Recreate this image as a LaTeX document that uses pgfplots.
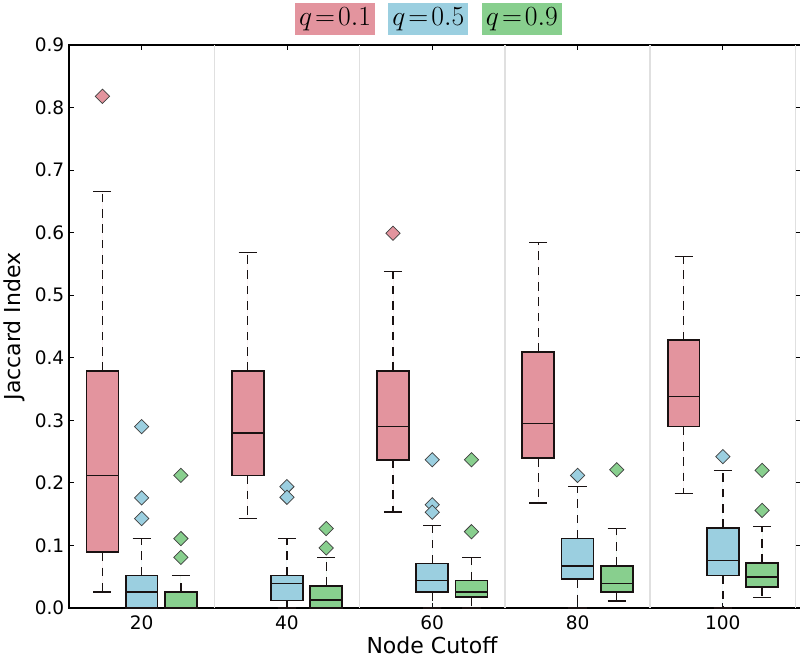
\documentclass[border=0pt]{standalone}
\usepackage{fontspec}
\setmainfont{DejaVu Sans}
\usepackage{pgfplots}
\pgfplotsset{compat=1.18}
\usepgfplotslibrary{statistics}
\definecolor{cr}{RGB}{227,148,158}
\definecolor{cb}{RGB}{155,207,224}
\definecolor{cg}{RGB}{136,207,142}
\definecolor{edge}{RGB}{25,18,18}
\pgfplotsset{
  bx/.style={
    draw=edge, fill=#1, line width=1.3pt,
    mark=square*, mark size=3.8pt,
    mark options={rotate=45, fill=#1, draw=black!75, line width=0.55pt, solid},
    boxplot/draw direction=y,
    boxplot/box extend=0.22,
    boxplot/whisker extend=0.125,
    boxplot/draw/lower whisker/.code={%
      \draw[line width=1pt, dash pattern=on 6.5pt off 5pt]
        (boxplot cs:\pgfplotsboxplotvalue{lower quartile}) --
        (boxplot cs:\pgfplotsboxplotvalue{lower whisker});
      \draw[line width=1.2pt]
        (boxplot whisker cs:\pgfplotsboxplotvalue{lower whisker},0) --
        (boxplot whisker cs:\pgfplotsboxplotvalue{lower whisker},1);
    },
    boxplot/draw/upper whisker/.code={%
      \draw[line width=1pt, dash pattern=on 6.5pt off 5pt]
        (boxplot cs:\pgfplotsboxplotvalue{upper quartile}) --
        (boxplot cs:\pgfplotsboxplotvalue{upper whisker});
      \draw[line width=1.2pt]
        (boxplot whisker cs:\pgfplotsboxplotvalue{upper whisker},0) --
        (boxplot whisker cs:\pgfplotsboxplotvalue{upper whisker},1);
    },
  },
}
\begin{document}
\begin{tikzpicture}
\path[use as bounding box] (-51.75pt,-38.8pt) rectangle (548.25pt,456pt);
\begin{axis}[
  at={(0,0)}, anchor=south west,
  scale only axis, width=548.85pt, height=422.25pt,
  xmin=0.5, xmax=5.5365, ymin=0, ymax=0.9,
  clip=false,
  xtick={1,2,3,4,5}, xticklabels={20,40,60,80,100},
  ytick={0,0.1,0.2,0.3,0.4,0.5,0.6,0.7,0.8,0.9},
  /pgf/number format/assume math mode=true,
  yticklabel style={/pgf/number format/.cd, fixed, fixed zerofill, precision=1},
  ticklabel style={font=\fontsize{13.9}{16}\selectfont},
  xticklabel style={yshift=-2pt},
  tick align=inside, major tick length=3.75pt,
  tick style={black, line width=0.6pt},
  axis line style={line width=1pt},
  extra x ticks={1.5,2.5,3.5,4.5,5.5},
  extra x tick labels={},
  extra x tick style={grid=major, major tick length=0pt,
    major grid style={draw=black!12, line width=1.1pt}},
  xlabel={Node Cutoff}, ylabel={Jaccard Index},
  label style={font=\fontsize{16.5}{19}\selectfont},
  xlabel style={at={(axis description cs:0.496,-0.066)}, anchor=center},
  ylabel style={at={(axis description cs:-0.0747,0.5)}, anchor=center},
]
% ---- 20 ----
\addplot[bx=cr, boxplot prepared={draw position=0.73, lower whisker=0.026, lower quartile=0.089, median=0.212, upper quartile=0.379, upper whisker=0.666}] table[row sep=\\,y index=0]{v\\0.818\\};
\addplot[bx=cb, boxplot prepared={draw position=1.0, lower whisker=0, lower quartile=0, median=0.026, upper quartile=0.052, upper whisker=0.111}] table[row sep=\\,y index=0]{v\\0.290\\0.176\\0.143\\};
\addplot[bx=cg, boxplot prepared={draw position=1.27, lower whisker=0, lower quartile=0, median=0, upper quartile=0.026, upper whisker=0.052}] table[row sep=\\,y index=0]{v\\0.212\\0.111\\0.081\\};
% ---- 40 ----
\addplot[bx=cr, boxplot prepared={draw position=1.73, lower whisker=0.143, lower quartile=0.212, median=0.280, upper quartile=0.379, upper whisker=0.568}] coordinates {};
\addplot[bx=cb, boxplot prepared={draw position=2.0, lower whisker=0, lower quartile=0.012, median=0.039, upper quartile=0.052, upper whisker=0.111}] table[row sep=\\,y index=0]{v\\0.194\\0.177\\};
\addplot[bx=cg, boxplot prepared={draw position=2.27, lower whisker=0, lower quartile=0, median=0.013, upper quartile=0.035, upper whisker=0.081}] table[row sep=\\,y index=0]{v\\0.127\\0.096\\};
% ---- 60 ----
\addplot[bx=cr, boxplot prepared={draw position=2.73, lower whisker=0.153, lower quartile=0.237, median=0.290, upper quartile=0.379, upper whisker=0.538}] table[row sep=\\,y index=0]{v\\0.599\\};
\addplot[bx=cb, boxplot prepared={draw position=3.0, lower whisker=0, lower quartile=0.025, median=0.044, upper quartile=0.071, upper whisker=0.132}] table[row sep=\\,y index=0]{v\\0.237\\0.165\\0.153\\};
\addplot[bx=cg, boxplot prepared={draw position=3.27, lower whisker=0, lower quartile=0.017, median=0.026, upper quartile=0.044, upper whisker=0.081}] table[row sep=\\,y index=0]{v\\0.237\\0.122\\};
% ---- 80 ----
\addplot[bx=cr, boxplot prepared={draw position=3.73, lower whisker=0.168, lower quartile=0.240, median=0.295, upper quartile=0.409, upper whisker=0.584}] coordinates {};
\addplot[bx=cb, boxplot prepared={draw position=4.0, lower whisker=0, lower quartile=0.046, median=0.067, upper quartile=0.111, upper whisker=0.194}] table[row sep=\\,y index=0]{v\\0.212\\};
\addplot[bx=cg, boxplot prepared={draw position=4.27, lower whisker=0.011, lower quartile=0.025, median=0.039, upper quartile=0.067, upper whisker=0.127}] table[row sep=\\,y index=0]{v\\0.221\\};
% ---- 100 ----
\addplot[bx=cr, boxplot prepared={draw position=4.73, lower whisker=0.183, lower quartile=0.290, median=0.338, upper quartile=0.428, upper whisker=0.562}] coordinates {};
\addplot[bx=cb, boxplot prepared={draw position=5.0, lower whisker=0, lower quartile=0.052, median=0.076, upper quartile=0.128, upper whisker=0.220}] table[row sep=\\,y index=0]{v\\0.242\\};
\addplot[bx=cg, boxplot prepared={draw position=5.27, lower whisker=0.017, lower quartile=0.033, median=0.050, upper quartile=0.072, upper whisker=0.130}] table[row sep=\\,y index=0]{v\\0.220\\0.156\\};
% legend
\node[fill=cr, minimum width=60pt, minimum height=24pt, inner sep=0pt, font=\fontsize{19.5}{22}\selectfont] at (rel axis cs:0.3635,1.046) {$q\!=\!0.1$};
\node[fill=cb, minimum width=60pt, minimum height=24pt, inner sep=0pt, font=\fontsize{19.5}{22}\selectfont] at (rel axis cs:0.4911,1.046) {$q\!=\!0.5$};
\node[fill=cg, minimum width=60pt, minimum height=24pt, inner sep=0pt, font=\fontsize{19.5}{22}\selectfont] at (rel axis cs:0.6189,1.046) {$q\!=\!0.9$};
\end{axis}
\end{tikzpicture}
\end{document}
